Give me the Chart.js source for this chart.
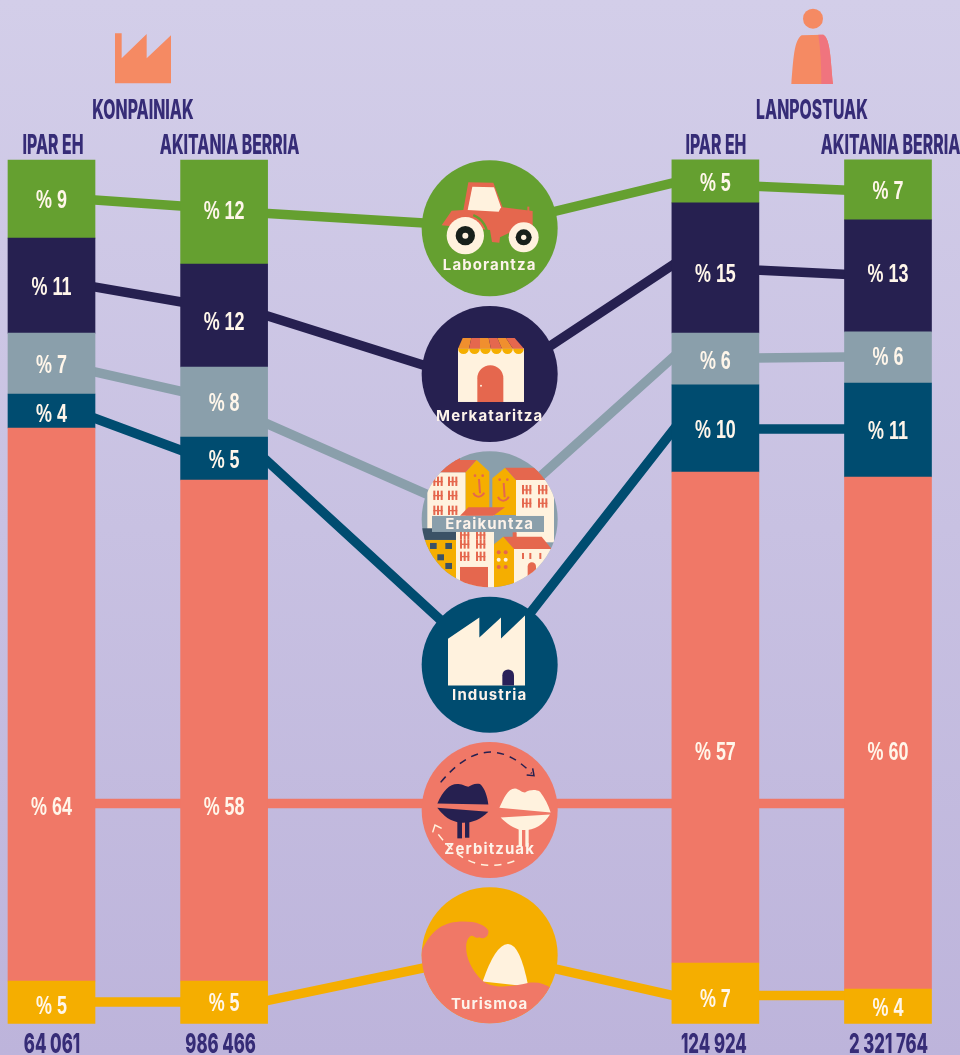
<!DOCTYPE html>
<html>
<head>
<meta charset="utf-8">
<title>Konpainiak eta lanpostuak</title>
<script src="https://cdn.jsdelivr.net/npm/chart.js@4/dist/chart.umd.min.js"></script>
<style>
  html, body { margin: 0; padding: 0; width: 960px; height: 1055px; overflow: hidden; }
  body { background: linear-gradient(180deg, #d3cee9 0%, #bdb4db 100%); }
  canvas { display: block; }
</style>
</head>
<body>
<canvas id="chart" width="960" height="1055"></canvas>
<script>
// columns, left to right
const columnNames = ["IPAR EH", "AKITANIA BERRIA", "IPAR EH", "AKITANIA BERRIA"];
const groupNames = ["KONPAINIAK", "LANPOSTUAK"];
const columnTotals = ["64 061", "986 466", "124 924", "2 321 764"];

// stacked from the bottom up
const sectorNames = ["Turismoa", "Zerbitzuak", "Industria", "Eraikuntza", "Merkataritza", "Laborantza"];

// bar heights (% of each column)
const turismoa = [4.92, 4.92, 7.01, 4.0];
const zerbitzuak = [64.04, 58.02, 56.86, 59.29];
const industria = [3.94, 4.98, 10.08, 10.89];
const eraikuntza = [7.06, 8.11, 6.02, 5.91];
const merkataritza = [11.0, 11.93, 15.06, 12.97];
const laborantza = [9.03, 12.04, 4.98, 6.95];

// the numbers printed on the bars
const printedTurismoa = [5, 5, 7, 4];
const printedZerbitzuak = [64, 58, 57, 60];
const printedIndustria = [4, 5, 10, 11];
const printedEraikuntza = [7, 8, 6, 6];
const printedMerkataritza = [11, 12, 15, 13];
const printedLaborantza = [9, 12, 5, 7];

// connector levels on the % axis: bar1 right, bar2 left, bar2 right, hub, bar3 left, bar3 right, bar4 left
const lineTurismoa = [2.49, 2.49, 2.57, 8.05, 3.18, 3.24, 3.24];
const lineZerbitzuak = [25.48, 25.48, 25.48, 25.48, 25.48, 25.48, 25.48];
const lineIndustria = [70.24, 66.24, 65.49, 41.52, 69.08, 68.85, 68.85];
const lineEraikuntza = [75.54, 73.13, 69.6, 58.08, 77.42, 77.07, 77.18];
const lineMerkataritza = [85.36, 83.5, 82.07, 73.83, 88.07, 87.26, 86.74];
const lineLaborantza = [95.4, 94.65, 93.84, 92.24, 97.41, 96.95, 96.5];

// centre of each sector circle on the % axis
const hubLevels = [7.9, 24.72, 41.55, 58.39, 75.22, 92.09];

// layout: the x axis is a row of evenly spaced slots
const SLOT_COUNT = 64;
const COLUMN_SLOTS = [0, 13, 50, 63];
const HUB_SLOT = 33;
const CONNECTOR_SLOTS = [3, 10, 16, 33, 47, 53, 60];
const TITLE_RATIO = 0.585;
const TOTAL_RATIO = 0.62;
const VALUE_RATIO = 0.69;
const TITLE_NUDGE = [1.5, 5.5, 0.5, 2.5];
const TOTAL_NUDGE = [0.5, -3.5, -1.5, 0.5];

const SECTOR_COLORS = ["#f5ae00", "#f07867", "#004c70", "#8a9fab", "#262050", "#65a030"];
const INK = "#362c77";
const CREAM = "#fff2de";
const SALMON = "#e5674e";

const seriesByColumn = [turismoa, zerbitzuak, industria, eraikuntza, merkataritza, laborantza];
const printedByColumn = [printedTurismoa, printedZerbitzuak, printedIndustria, printedEraikuntza, printedMerkataritza, printedLaborantza];
const linesBySector = [lineTurismoa, lineZerbitzuak, lineIndustria, lineEraikuntza, lineMerkataritza, lineLaborantza];

// pixel nudges of the printed labels away from the bar centre
const labelNudge = [
  [2, -1, 4, 0],
  [0, 0, 0, 0],
  [1, 0, 0, 0],
  [0, 0, 1, -1.5],
  [0, 5.5, 5, -3],
  [-1, -2.5, 0, 0],
];
// the big salmon bars carry their label off-centre
const zerbitzuakLabelLevels = [25.19, 25.19, 31.56, 31.56];

const onSlots = (slots, values) => {
  let row = new Array(SLOT_COUNT).fill(null);
  slots.forEach((slot, i) => { row[slot] = values[i]; });
  return row;
};

const slotLabels = new Array(SLOT_COUNT).fill("").map((_, i) => {
  let col = COLUMN_SLOTS.indexOf(i);
  return col >= 0 ? columnNames[col] + " " + col : "slot " + i;
});

let datasets = [];
sectorNames.forEach((name, s) => {
  datasets.push({
    type: 'bar',
    label: name,
    stack: 'share',
    data: onSlots(COLUMN_SLOTS, seriesByColumn[s]),
    backgroundColor: SECTOR_COLORS[s],
    barThickness: 87,
    order: 1,
    clip: false,
  });
});
sectorNames.forEach((name, s) => {
  datasets.push({
    type: 'line',
    label: name + " hub",
    data: onSlots([HUB_SLOT], [hubLevels[s]]),
    showLine: false,
    pointRadius: 68,
    pointHoverRadius: 68,
    pointBorderWidth: 0,
    pointBackgroundColor: SECTOR_COLORS[s],
    order: 2,
    clip: false,
  });
  datasets.push({
    type: 'line',
    label: name + " line",
    data: onSlots(CONNECTOR_SLOTS, linesBySector[s]),
    spanGaps: true,
    borderColor: SECTOR_COLORS[s],
    borderWidth: 9.5,
    pointRadius: 0,
    tension: 0,
    order: 3,
    clip: false,
  });
});

const narrowText = (ctx, text, x, y, ratio) => {
  ctx.fillText(text, x, y, ctx.measureText(text).width * ratio);
};

// icon paths are written in a 3x grid around the hub centre
const poly = (ctx, color, pts) => {
  ctx.fillStyle = color;
  ctx.beginPath();
  pts.forEach((p, i) => { if (i) ctx.lineTo(p[0], p[1]); else ctx.moveTo(p[0], p[1]); });
  ctx.closePath();
  ctx.fill();
};
const rect = (ctx, color, x0, y0, x1, y1) => {
  ctx.fillStyle = color;
  ctx.fillRect(x0, y0, x1 - x0, y1 - y0);
};
const disc = (ctx, color, x, y, r) => {
  ctx.fillStyle = color;
  ctx.beginPath();
  ctx.arc(x, y, r, 0, Math.PI * 2);
  ctx.fill();
};
const archDoor = (ctx, color, x0, x1, top, bottom) => {
  let r = (x1 - x0) / 2;
  ctx.fillStyle = color;
  ctx.beginPath();
  ctx.moveTo(x0, bottom);
  ctx.lineTo(x0, top + r);
  ctx.arc(x0 + r, top + r, r, Math.PI, 0);
  ctx.lineTo(x1, bottom);
  ctx.closePath();
  ctx.fill();
};

const drawLaborantza = (ctx) => {
  poly(ctx, SALMON, [[205, 97], [280, 98], [308, 172], [398, 183], [398, 240], [335, 245], [300, 262], [298, 278], [276, 276], [270, 240], [125, 226], [155, 182], [190, 180]]);
  poly(ctx, CREAM, [[217, 110], [282, 112], [303, 172], [296, 185], [203, 180]]);
  ctx.strokeStyle = "#65a030";
  ctx.lineWidth = 7;
  ctx.beginPath();
  ctx.arc(196, 257, 66, -1.2, 0.1);
  ctx.stroke();
  rect(ctx, SALMON, 382, 170, 388, 185);
  disc(ctx, CREAM, 196, 257, 56);
  disc(ctx, "#17201a", 196, 257, 29);
  disc(ctx, CREAM, 196, 257, 9);
  disc(ctx, CREAM, 371, 262, 45);
  disc(ctx, "#17201a", 371, 262, 24);
  disc(ctx, CREAM, 371, 262, 8);
};

const drawMerkataritza = (ctx) => {
  rect(ctx, CREAM, 174, 145, 372, 306);
  let stripes = ["#f08f2e", SALMON, "#f08f2e", SALMON, "#f08f2e", SALMON];
  for (let i = 0; i < 6; i++) {
    let topA = 188 + 26 * i, topB = 188 + 26 * (i + 1);
    let botA = 174 + 33 * i, botB = 174 + 33 * (i + 1);
    poly(ctx, stripes[i], [[topA, 114], [topB, 114], [botB, 146], [botA, 146]]);
  }
  for (let i = 0; i < 6; i++) {
    ctx.fillStyle = "#f5ae00";
    ctx.beginPath();
    ctx.arc(190.5 + 33 * i, 146, 16, 0, Math.PI);
    ctx.fill();
  }
  archDoor(ctx, SALMON, 232, 310, 196, 306);
  disc(ctx, CREAM, 243, 257, 3);
};

const windowGlyph = (ctx, x, y) => {
  rect(ctx, SALMON, x, y, x + 6, y + 28);
  rect(ctx, SALMON, x + 11, y, x + 17, y + 28);
  rect(ctx, SALMON, x + 22, y, x + 28, y + 28);
  rect(ctx, SALMON, x, y + 13, x + 28, y + 17);
};

const drawEraikuntza = (ctx) => {
  ctx.save();
  ctx.beginPath();
  ctx.arc(269, 223, 204, 0, Math.PI * 2);
  ctx.clip();
  rect(ctx, SALMON, 156, 24, 186, 36);
  rect(ctx, SALMON, 162, 36, 180, 50);
  rect(ctx, CREAM, 82, 82, 197, 260);
  poly(ctx, SALMON, [[85, 82], [115, 45], [230, 45], [197, 82]]);
  poly(ctx, "#f5ae00", [[197, 82], [230, 45], [268, 80], [268, 200], [197, 200]]);
  poly(ctx, "#f5ae00", [[277, 100], [315, 68], [348, 105], [348, 210], [277, 210]]);
  rect(ctx, CREAM, 348, 105, 462, 292);
  poly(ctx, SALMON, [[315, 68], [425, 68], [462, 105], [348, 105]]);
  [[100, 95], [144, 95], [100, 137], [144, 137], [100, 182], [144, 182], [366, 120], [414, 120], [366, 160], [414, 160]].forEach((w) => windowGlyph(ctx, w[0], w[1]));
  ctx.strokeStyle = SALMON;
  ctx.lineWidth = 6;
  [[234, 100], [308, 112]].forEach((f) => {
    disc(ctx, SALMON, f[0] - 9, f[1] - 8, 4);
    disc(ctx, SALMON, f[0] + 14, f[1] - 8, 4);
    ctx.beginPath();
    ctx.moveTo(f[0] + 3, f[1] + 2);
    ctx.lineTo(f[0] + 6, f[1] + 45);
    ctx.stroke();
    ctx.beginPath();
    ctx.arc(f[0] + 2, f[1] + 38, 17, 0.3, 2.8);
    ctx.stroke();
  });
  rect(ctx, "#3b5266", 60, 250, 170, 285);
  rect(ctx, "#f5ae00", 60, 285, 168, 440);
  [[90, 294], [136, 294], [112, 328], [136, 354]].forEach((w) => rect(ctx, "#3b5266", w[0], w[1], w[0] + 20, w[1] + 18));
  rect(ctx, CREAM, 168, 212, 282, 440);
  poly(ctx, SALMON, [[180, 212], [205, 187], [315, 187], [280, 212]]);
  [[180, 255], [228, 255], [180, 283], [228, 283], [180, 320], [228, 320]].forEach((w) => windowGlyph(ctx, w[0], w[1]));
  rect(ctx, SALMON, 180, 366, 264, 440);
  poly(ctx, "#f5ae00", [[282, 298], [310, 275], [342, 310], [342, 440], [282, 440]]);
  [[296, 322], [317, 322], [296, 366], [317, 366]].forEach((d) => disc(ctx, SALMON, d[0], d[1], 6));
  disc(ctx, CREAM, 296, 344, 6);
  disc(ctx, CREAM, 317, 344, 6);
  rect(ctx, CREAM, 342, 312, 462, 440);
  rect(ctx, SALMON, 338, 262, 350, 280);
  poly(ctx, SALMON, [[310, 275], [425, 275], [455, 312], [342, 312]]);
  [[366, 324], [388, 324], [418, 324]].forEach((b) => rect(ctx, SALMON, b[0], b[1], b[0] + 6, b[1] + 18));
  archDoor(ctx, SALMON, 383, 408, 352, 440);
  rect(ctx, "#8a9fab", 96, 213, 432, 261);
  ctx.restore();
};

const drawIndustria = (ctx) => {
  poly(ctx, CREAM, [[144, 146], [238, 82], [238, 142], [303, 82], [303, 145], [375, 76], [375, 286], [144, 286]]);
  archDoor(ctx, "#2a2159", 307, 342, 238, 286);
};

const drawZerbitzuak = (ctx) => {
  ctx.fillStyle = "#262050";
  ctx.beginPath();
  ctx.moveTo(112, 205);
  ctx.bezierCurveTo(130, 165, 150, 145, 175, 147);
  ctx.bezierCurveTo(190, 148, 198, 155, 205, 155);
  ctx.bezierCurveTo(215, 150, 225, 143, 240, 147);
  ctx.bezierCurveTo(255, 160, 262, 185, 265, 208);
  ctx.closePath();
  ctx.fill();
  ctx.beginPath();
  ctx.moveTo(112, 218);
  ctx.lineTo(265, 230);
  ctx.bezierCurveTo(240, 255, 215, 264, 185, 263);
  ctx.bezierCurveTo(150, 260, 130, 242, 112, 218);
  ctx.closePath();
  ctx.fill();
  rect(ctx, "#262050", 172, 258, 186, 310);
  rect(ctx, "#262050", 195, 258, 208, 308);
  ctx.fillStyle = CREAM;
  ctx.beginPath();
  ctx.moveTo(298, 218);
  ctx.bezierCurveTo(312, 190, 322, 160, 345, 160);
  ctx.bezierCurveTo(358, 162, 365, 172, 375, 172);
  ctx.bezierCurveTo(390, 165, 405, 162, 420, 170);
  ctx.bezierCurveTo(435, 190, 445, 210, 452, 232);
  ctx.closePath();
  ctx.fill();
  ctx.beginPath();
  ctx.moveTo(302, 247);
  ctx.lineTo(450, 238);
  ctx.bezierCurveTo(430, 270, 400, 287, 365, 285);
  ctx.bezierCurveTo(340, 280, 320, 265, 302, 247);
  ctx.closePath();
  ctx.fill();
  rect(ctx, CREAM, 356, 282, 366, 335);
  rect(ctx, CREAM, 376, 282, 386, 335);
  // the two dashed arrows around the lips
  ctx.lineWidth = 4.5;
  ctx.strokeStyle = "#262050";
  ctx.setLineDash([22, 18]);
  ctx.beginPath();
  ctx.moveTo(122, 142);
  ctx.quadraticCurveTo(260, -25, 395, 115);
  ctx.stroke();
  ctx.setLineDash([]);
  ctx.beginPath();
  ctx.moveTo(380, 120);
  ctx.lineTo(402, 122);
  ctx.lineTo(398, 100);
  ctx.stroke();
  ctx.strokeStyle = CREAM;
  ctx.setLineDash([22, 18]);
  ctx.beginPath();
  ctx.moveTo(115, 298);
  ctx.quadraticCurveTo(215, 430, 350, 375);
  ctx.stroke();
  ctx.setLineDash([]);
  ctx.beginPath();
  ctx.moveTo(98, 292);
  ctx.lineTo(105, 270);
  ctx.lineTo(125, 280);
  ctx.stroke();
};

const drawTurismoa = (ctx) => {
  ctx.save();
  ctx.beginPath();
  ctx.arc(269, 226, 204, 0, Math.PI * 2);
  ctx.clip();
  ctx.fillStyle = CREAM;
  ctx.beginPath();
  ctx.moveTo(248, 305);
  ctx.quadraticCurveTo(285, 195, 323, 192);
  ctx.quadraticCurveTo(360, 190, 385, 320);
  ctx.closePath();
  ctx.fill();
  ctx.fillStyle = "#f07867";
  ctx.beginPath();
  ctx.moveTo(60, 225);
  ctx.bezierCurveTo(90, 150, 130, 125, 190, 125);
  ctx.bezierCurveTo(230, 125, 255, 135, 265, 152);
  ctx.bezierCurveTo(268, 170, 250, 180, 238, 172);
  ctx.bezierCurveTo(225, 178, 222, 165, 212, 168);
  ctx.bezierCurveTo(190, 180, 190, 250, 250, 305);
  ctx.bezierCurveTo(285, 330, 345, 318, 390, 308);
  ctx.bezierCurveTo(415, 305, 435, 312, 450, 322);
  ctx.lineTo(450, 440);
  ctx.lineTo(60, 440);
  ctx.closePath();
  ctx.fill();
  ctx.restore();
};

// same order as sectorNames; cy is the icon grid centre, text the label baseline below the hub centre
const hubIcons = [
  { draw: drawTurismoa, cy: 226, text: 54 },
  { draw: drawZerbitzuak, cy: 225, text: 44 },
  { draw: drawIndustria, cy: 224, text: 35 },
  { draw: drawEraikuntza, cy: 223, text: 9.5 },
  { draw: drawMerkataritza, cy: 222, text: 47 },
  { draw: drawLaborantza, cy: 235, text: 42 },
];

const pictogramPlugin = {
  id: 'pictograms',
  afterDatasetsDraw(chart) {
    const ctx = chart.ctx;
    const x = chart.scales.x;

    // printed shares on the bars
    ctx.save();
    ctx.fillStyle = "#fff6ea";
    ctx.textAlign = "center";
    ctx.font = "bold 26px 'Liberation Sans'";
    sectorNames.forEach((name, s) => {
      const meta = chart.getDatasetMeta(s);
      COLUMN_SLOTS.forEach((slot, c) => {
        const bar = meta.data[slot];
        let cy = (bar.y + bar.base) / 2 + labelNudge[s][c];
        if (s === 1) cy = chart.scales.y.getPixelForValue(zerbitzuakLabelLevels[c]);
        narrowText(ctx, "% " + printedByColumn[s][c], bar.x, cy + 9.5, VALUE_RATIO);
      });
    });

    // column titles, group titles, totals
    ctx.fillStyle = INK;
    ctx.font = "800 27px Inter";
    columnNames.forEach((name, c) => {
      narrowText(ctx, name, x.getPixelForValue(COLUMN_SLOTS[c]) + TITLE_NUDGE[c], 154, TITLE_RATIO);
      narrowText(ctx, columnTotals[c], x.getPixelForValue(COLUMN_SLOTS[c]) + TOTAL_NUDGE[c], 1053, TOTAL_RATIO);
    });
    narrowText(ctx, groupNames[0], 143, 119, TITLE_RATIO);
    narrowText(ctx, groupNames[1], 812, 119, TITLE_RATIO);
    ctx.restore();

    // the circles' pictures and names
    sectorNames.forEach((name, s) => {
      const hub = chart.getDatasetMeta(sectorNames.length + s * 2).data[HUB_SLOT];
      const icon = hubIcons[s];
      ctx.save();
      ctx.translate(hub.x, hub.y);
      ctx.scale(1 / 3, 1 / 3);
      ctx.translate(-269, -icon.cy);
      icon.draw(ctx);
      ctx.restore();
      ctx.save();
      ctx.fillStyle = "#fdf3ea";
      ctx.textAlign = "center";
      ctx.font = "bold 15px Inter, 'Open Sans'";
      ctx.letterSpacing = "1.1px";
      ctx.fillText(name, hub.x, hub.y + icon.text);
      ctx.restore();
    });

    // the two small symbols over the groups
    ctx.save();
    ctx.scale(1 / 3, 1 / 3);
    poly(ctx, "#f58a63", [[345, 100], [365, 100], [365, 175], [440, 102], [440, 175], [513, 106], [513, 250], [345, 250]]);
    ctx.translate(1980, 0);
    disc(ctx, "#f58a63", 459, 56, 30);
    ctx.fillStyle = "#f58a63";
    ctx.beginPath();
    ctx.moveTo(394, 252);
    ctx.bezierCurveTo(400, 180, 402, 120, 425, 106);
    ctx.lineTo(490, 104);
    ctx.bezierCurveTo(512, 115, 512, 190, 519, 252);
    ctx.closePath();
    ctx.fill();
    ctx.fillStyle = "#f0747e";
    ctx.beginPath();
    ctx.moveTo(475, 104);
    ctx.lineTo(490, 104);
    ctx.bezierCurveTo(512, 115, 512, 190, 519, 252);
    ctx.lineTo(484, 252);
    ctx.bezierCurveTo(484, 200, 482, 150, 475, 104);
    ctx.closePath();
    ctx.fill();
    ctx.restore();
  },
};

new Chart(document.getElementById('chart'), {
  type: 'bar',
  data: { labels: slotLabels, datasets: datasets },
  plugins: [pictogramPlugin],
  options: {
    responsive: false,
    animation: false,
    layout: { autoPadding: false, padding: { top: 160, bottom: 31.5, left: 51.5, right: 72 } },
    plugins: { legend: { display: false }, tooltip: { enabled: false } },
    events: [],
    scales: {
      x: { type: 'category', offset: false, display: false },
      y: { type: 'linear', min: 0, max: 100, display: false },
    },
  },
});
</script>
</body>
</html>
